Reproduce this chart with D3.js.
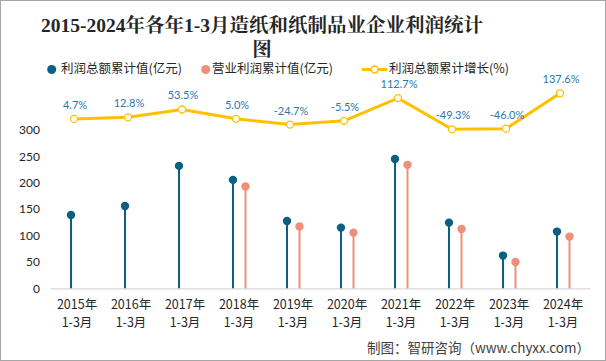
<!DOCTYPE html>
<html><head><meta charset="utf-8">
<script src="https://cdn.jsdelivr.net/npm/d3@7/dist/d3.min.js"></script>
<style>body{margin:0;background:#fff}</style>
</head><body>
<script>
const years = ["2015年","2016年","2017年","2018年","2019年","2020年","2021年","2022年","2023年","2024年"];
const period = "1-3月";
const totalProfit = [139, 156, 232, 205.5, 127.5, 115, 245, 124.5, 62, 107.5];
const operatingProfit = [null, null, null, 193, 117, 105.5, 234, 112.5, 50, 98];
const growth = [4.7, 12.8, 53.5, 5.0, -24.7, -5.5, 112.7, -49.3, -46.0, 137.6];
const yTicks = [0, 50, 100, 150, 200, 250, 300];

const W = 606, H = 361;
const svg = d3.select("body").append("svg").attr("width", W).attr("height", H);
svg.append("rect").attr("x",0.5).attr("y",0.5).attr("width",W-1).attr("height",H-1)
  .attr("fill","#fff").attr("stroke","#a6a6a6");

const x = d3.scaleBand().domain(years).range([50, 590]);
const y = d3.scaleLinear().domain([0, 300]).range([288.3, 130]);
const y2 = d3.scaleLinear().domain([-150, 150]).range([148.7, 90.9]);

const blue = "#0b5f82", pink = "#ee9079", gold = "#ffc000";

// title
const title = svg.append("text").attr("text-anchor","middle")
  .style("font-family","'Liberation Serif','Noto Serif CJK SC','Noto Sans CJK SC',serif")
  .style("font-weight","bold").style("font-size","19.5px").attr("fill","#262626");
title.append("tspan").attr("x",262).attr("y",32).text("2015-2024年各年1-3月造纸和纸制品业企业利润统计");
title.append("tspan").attr("x",262).attr("y",56).text("图");

// legend
const lg = svg.append("g").style("font-family","'Noto Sans CJK SC',sans-serif").style("font-size","12.5px").attr("fill","#262626");
lg.append("circle").attr("cx",51.7).attr("cy",69.5).attr("r",4.5).attr("fill",blue);
lg.append("text").attr("x",61).attr("y",73).text("利润总额累计值(亿元)");
lg.append("circle").attr("cx",205.7).attr("cy",69.5).attr("r",4.5).attr("fill",pink);
lg.append("text").attr("x",212).attr("y",73).text("营业利润累计值(亿元)");
lg.append("line").attr("x1",362).attr("x2",387).attr("y1",69.5).attr("y2",69.5).attr("stroke",gold).attr("stroke-width",3);
lg.append("circle").attr("cx",374.5).attr("cy",69.5).attr("r",3.5).attr("fill","#fff").attr("stroke",gold).attr("stroke-width",1.5);
lg.append("text").attr("x",389).attr("y",73).text("利润总额累计增长(%)");

// y axis
const ya = svg.append("g").attr("transform","translate(40,0)")
  .call(d3.axisLeft(y).tickValues(yTicks).tickSize(0).tickPadding(0));
ya.select(".domain").remove();
ya.selectAll("text").style("font-family","Lato,'Open Sans',sans-serif").style("font-size","12px").attr("fill","#262626");

// x axis
const xa = svg.append("g").attr("transform","translate(0,288.3)")
  .call(d3.axisBottom(x).tickSize(0).tickPadding(0));
xa.select(".domain").attr("stroke","#d9d9d9").attr("stroke-width",1.2);
xa.selectAll(".tick text").remove();
xa.selectAll(".tick").each(function(d){
  const t = d3.select(this).append("text").attr("text-anchor","middle")
    .style("font-family","'Noto Sans CJK SC',sans-serif").style("font-size","12.5px").attr("fill","#262626");
  t.append("tspan").attr("x",0).attr("y",21).text(d);
  t.append("tspan").attr("x",0).attr("y",39).text(period);
});

// lollipops
const bw = x.bandwidth();
const g = svg.append("g");
years.forEach((yr,i)=>{
  const cx1 = x(yr) + bw/2 - 6;
  g.append("line").attr("x1",cx1).attr("x2",cx1).attr("y1",y(0)).attr("y2",y(totalProfit[i])).attr("stroke",blue).attr("stroke-width",2);
  g.append("circle").attr("cx",cx1).attr("cy",y(totalProfit[i])).attr("r",4.2).attr("fill",blue);
  if (operatingProfit[i] != null) {
    const cx2 = x(yr) + bw/2 + 6.5;
    g.append("line").attr("x1",cx2).attr("x2",cx2).attr("y1",y(0)).attr("y2",y(operatingProfit[i])).attr("stroke",pink).attr("stroke-width",2);
    g.append("circle").attr("cx",cx2).attr("cy",y(operatingProfit[i])).attr("r",4.2).attr("fill",pink);
  }
});

// growth line
const lx = (i)=> x(years[i]) + bw/2 - 3;
const line = d3.line().x((d,i)=>lx(i)).y(d=>y2(d));
svg.append("path").datum(growth).attr("d",line).attr("fill","none").attr("stroke",gold).attr("stroke-width",3).attr("stroke-linejoin","round");
svg.selectAll(".gm").data(growth).enter().append("circle").attr("class","gm")
  .attr("cx",(d,i)=>lx(i)).attr("cy",d=>y2(d)).attr("r",3.5).attr("fill","#fff").attr("stroke",gold).attr("stroke-width",1.3);
svg.selectAll(".gl").data(growth).enter().append("text").attr("class","gl")
  .attr("x",(d,i)=>lx(i)+1).attr("y",d=>y2(d)-10).attr("text-anchor","middle")
  .style("font-family","Lato,'Open Sans',sans-serif").style("font-size","11px").attr("fill","#2a78b0")
  .text(d=>d.toFixed(1)+"%");

// footer
svg.append("text").attr("x",590).attr("y",352.5).attr("text-anchor","end")
  .style("font-family","'Noto Sans CJK SC',sans-serif").style("font-size","13.5px").attr("fill","#404040")
  .text("制图：智研咨询（www.chyxx.com）");
</script>
</body></html>
